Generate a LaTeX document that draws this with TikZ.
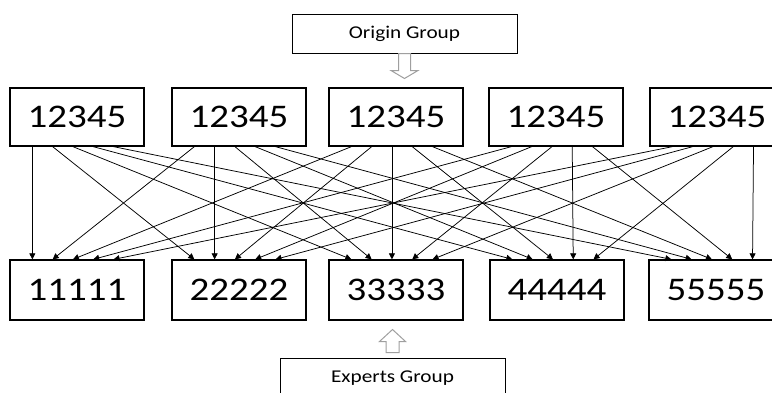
\documentclass[tikz,border=0pt]{standalone}
\usepackage{fontspec}
\usepackage{tikz}
\usetikzlibrary{arrows.meta,calc}
\newfontfamily\numfont[FakeStretch=1.18]{Carlito}

\tikzset{
  numbox/.style={draw, line width=1.3pt, minimum width=134, minimum height=58, inner sep=0pt,
    font=\numfont\fontsize{33}{36}\selectfont},
  groupbox/.style={draw, line width=1pt, minimum width=225, minimum height=39, inner sep=0pt,
    font=\numfont\fontsize{18}{20}\selectfont},
  link/.style={line width=0.75pt, -{Triangle[length=6pt,width=6pt]}},
  hollow/.style={draw=gray!75, line width=1pt, fill=white, line join=miter}
}

\begin{document}
\begin{tikzpicture}[x=1pt,y=-1pt]
\useasboundingbox (0,0) rectangle (772,392);
\clip (0,0) rectangle (772,392);

% group boxes
\node[groupbox] (origin) at (404.5,33.5) {Origin Group};
\node[groupbox,minimum height=40] (experts) at (392.5,378) {Experts Group};

% rows of numbers
\foreach \x [count=\i] in {77,239,396,556,717}
  \node[numbox] (t\i) at (\x,117) {12345};
\foreach \x/\t [count=\i] in {77/11111,239/22222,396/33333,557/44444,716/55555}
  \node[numbox,minimum height=60] (b\i) at (\x,290) {\t};

% every origin box to every expert box
\foreach \i in {1,...,5}
  \foreach \j in {1,...,5} {
    \pgfmathsetmacro\fs{0.17+0.15*(\j-1)}
    \pgfmathsetmacro\fe{0.17+0.15*(\i-1)}
    \draw[link] ($(t\i.south west)!\fs!(t\i.south east)$) -- ($(b\j.north west)!\fe!(b\j.north east)$);
  }

% hollow arrows
\draw[hollow] ([xshift=-6pt]origin.south) -- ++(0,17) -- ++(-7.5,0) -- ++(13.5,8)
  -- ++(13.5,-8) -- ++(-7.5,0) -- ++(0,-17) -- cycle;
\draw[hollow] ([xshift=-6.5pt,yshift=5pt]experts.north) -- ++(0,-11) -- ++(-6.5,0) -- ++(13,-12)
  -- ++(13,12) -- ++(-6.5,0) -- ++(0,11) -- cycle;
\end{tikzpicture}
\end{document}
